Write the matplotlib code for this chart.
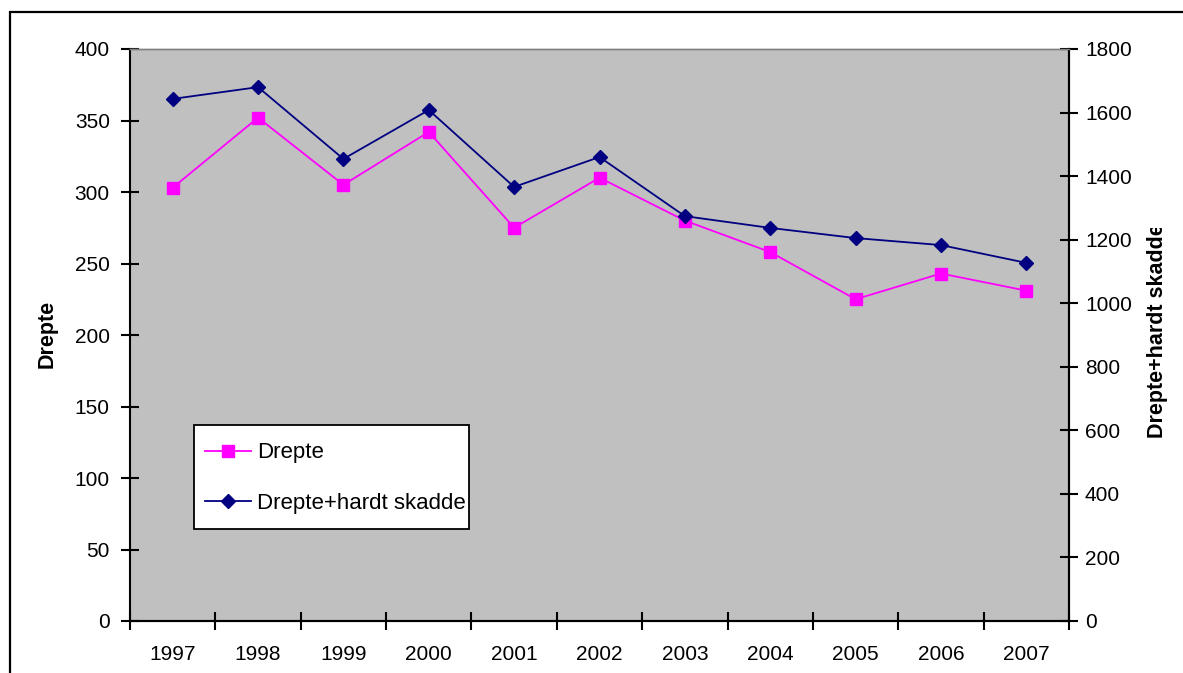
import numpy as np
import matplotlib.pyplot as plt
from matplotlib.patches import Rectangle
from matplotlib.transforms import Bbox

years = ["1997", "1998", "1999", "2000", "2001", "2002", "2003", "2004", "2005", "2006", "2007"]
drepte = [303, 352, 305, 342, 275, 310, 280, 258, 225, 243, 231]
drepte_skadde = [1643, 1680, 1454, 1608, 1366, 1460, 1274, 1237, 1205, 1183, 1127]

plt.rcParams['font.family'] = ['Liberation Sans', 'DejaVu Sans']

fig = plt.figure(figsize=(11.83, 6.73), dpi=100)
ax = fig.add_axes([130/1183, 1-621/673, (1069-130)/1183, (621-49)/673])
ax2 = ax.twinx()

ax.set_facecolor('#C0C0C0')
x = np.arange(len(years))

l1, = ax.plot(x, drepte, color='#FF00FF', lw=1.3, marker='s', ms=8, mfc='#FF00FF', mec='#FF00FF')
l2, = ax2.plot(x, drepte_skadde, color='#000080', lw=1.3, marker='D', ms=7, mfc='#000080', mec='#000080')

ax.set_xlim(-0.5, len(years) - 0.5)
ax.set_ylim(0, 400)
ax2.set_ylim(0, 1800)
ax.set_yticks(range(0, 401, 50))
ax2.set_yticks(range(0, 1801, 200))

ax.set_xticks(x)
ax.set_xticklabels(years)
ax.set_xticks(np.arange(-0.5, len(years)), minor=True)
ax.tick_params(axis='x', which='major', length=0, pad=17, labelsize=15)
ax.tick_params(axis='x', which='minor', length=13, width=1.5, direction='inout')
ax.tick_params(axis='y', length=13, width=1.5, direction='inout', labelsize=15, pad=8)
ax2.tick_params(axis='y', length=13, width=1.5, direction='inout', labelsize=15, pad=5)

for a in (ax, ax2):
    for s in a.spines.values():
        s.set_linewidth(1.5)
    a.spines['top'].set_color('#808080')
    a.spines['top'].set_linewidth(1)
ax2.spines['left'].set_visible(False)

ax.set_ylabel('Drepte', fontsize=15.5, fontweight='bold')
ax.yaxis.set_label_coords(-72/939, (621-334)/572)

t = fig.text(1157/1183, 1-438/673, 'Drepte+hardt skadde', rotation=90, fontsize=15.5,
             fontweight='bold', ha='center', va='bottom')
t.set_clip_box(Bbox.from_extents(1130, 0, 1183, 673-228))
t.set_clip_on(True)

# legend frame drawn separately so the padding matches the original
ax.add_patch(Rectangle(((194-130)/939, (621-529)/572), (469-194)/939, (529-425)/572,
                       transform=ax.transAxes, facecolor='white', edgecolor='black',
                       lw=1.3, zorder=9))
leg = ax.legend([l1, l2], ['Drepte', 'Drepte+hardt skadde'], loc='center left',
                bbox_to_anchor=((205-130)/939, (621-478)/572), fontsize=16,
                frameon=False, handlelength=2.05, handletextpad=0.28, labelspacing=1.32,
                borderpad=0, borderaxespad=0)
leg.set_zorder(10)

fig.add_artist(Rectangle((10/1183, -0.1), 1.2, 1.1 - 12/673, transform=fig.transFigure,
                         fill=False, edgecolor='black', lw=1.6))

fig.savefig('out.png', dpi=100)
